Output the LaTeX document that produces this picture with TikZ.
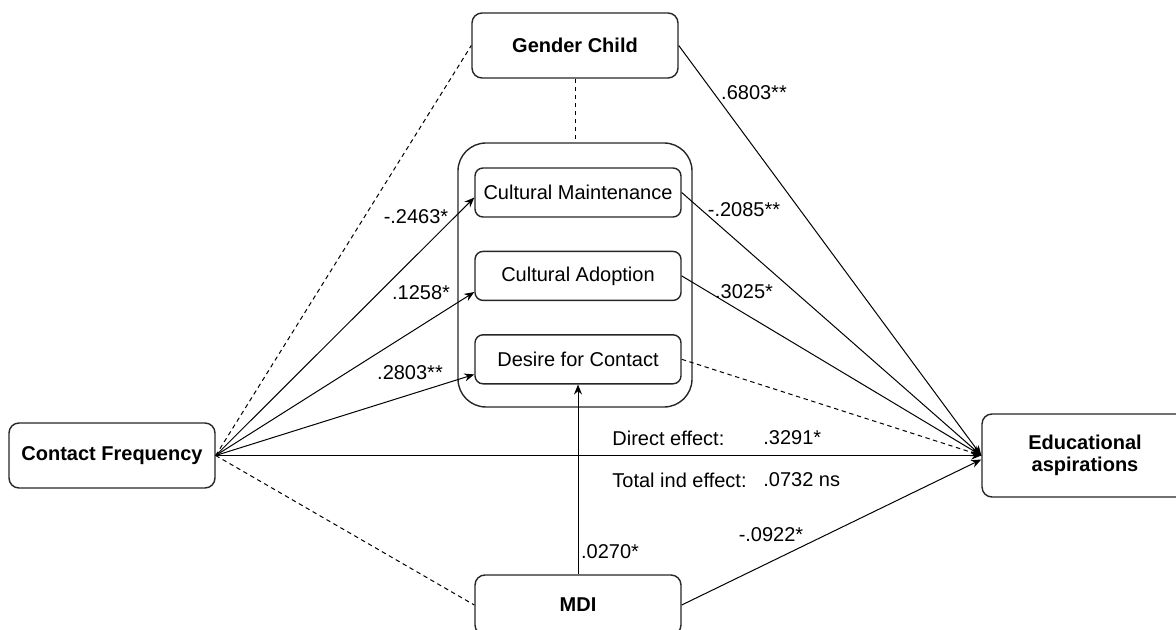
\documentclass[tikz,border=0pt]{standalone}
\usepackage{fontspec}
\setmainfont{Liberation Sans}
\usetikzlibrary{arrows.meta,positioning,calc}

\begin{document}
\begin{tikzpicture}[
    x=0.5pt, y=-0.5pt,
    node distance=16.5pt,
    var/.style={draw=black!85, line width=0.7pt, rounded corners=5pt, fill=white, minimum width=103pt, minimum height=32.5pt, align=center, font=\fontsize{10}{11}\selectfont\bfseries},
    med/.style={draw=black!85, line width=0.7pt, rounded corners=4pt, fill=white, minimum width=103pt, minimum height=24.5pt, font=\fontsize{10}{12}\selectfont},
    grp/.style={draw=black!85, line width=0.7pt, rounded corners=14pt, minimum width=117pt, minimum height=132pt},
    coef/.style={font=\fontsize{10}{12}\selectfont, inner sep=1pt},
    arr/.style={-{Stealth[length=5pt,width=4pt]}, line width=0.5pt},
    dsh/.style={dash pattern=on 2.2pt off 1.8pt, line width=0.5pt}
  ]
    \useasboundingbox (0,0) rectangle (1176,630);

    \node[grp] (grp) at (575,275) {};
    \node[var] (gc) at (575,45.5) {Gender Child};
    \node[var] (cf) at (112,455.5) {Contact Frequency};
    \node[var, minimum height=41.5pt] (ea) at (1085,455.5) {Educational\\aspirations};
    \node[var, minimum height=30pt] (mdi) at (578,605) {MDI};
    \node[med] (cm) at (578,192.5) {Cultural Maintenance};
    \node[med, below=of cm] (ca) {Cultural Adoption};
    \node[med, below=of ca] (dfc) {Desire for Contact};

    \draw[arr] (cf.east) -- ($(cm.south west)!0.4!(cm.north west)$);
    \draw[arr] (cf.east) -- ($(ca.south west)!0.18!(ca.north west)$);
    \draw[arr] (cf.east) -- ($(dfc.south west)!0.2!(dfc.north west)$);
    \draw[arr, line width=0.9pt] (cf.east) -- (ea.west);
    \draw[dsh] (cf.east) -- (gc.west);
    \draw[dsh] (cf.east) -- (mdi.west);
    \draw[dsh] (gc.south) -- (grp.north);
    \draw[arr] (gc.east) -- (ea.west);
    \draw[arr] (cm.east) -- (ea.west);
    \draw[arr] (ca.east) -- (ea.west);
    \draw[arr, dsh] (dfc.east) -- (ea.west);
    \draw[arr] (mdi.north) -- (dfc.south);
    \draw[arr] (mdi.east) -- ($(ea.west)+(0,4)$);

    \node[coef] (b1) at (416,217) {-.2463*};
    \node[coef] (b2) at (421,293) {.1258*};
    \node[coef] (b3) at (410,373) {.2803**};
    \node[coef] (b4) at (754,93) {.6803**};
    \node[coef] (b5) at (744,210) {-.2085**};
    \node[coef] (b6) at (744,292) {.3025*};
    \node[coef] (b7) at (610,552) {.0270*};
    \node[coef] (b8) at (771,535) {-.0922*};
    \node[coef, anchor=west] (dirlab) at (610,438) {Direct effect:};
    \node[coef, anchor=west] (dirval) at (761,438) {.3291*};
    \node[coef, anchor=west] (indlab) at (610,480) {Total ind effect:};
    \node[coef, anchor=west] (indval) at (761,480) {.0732 ns};
  \end{tikzpicture}
\end{document}
